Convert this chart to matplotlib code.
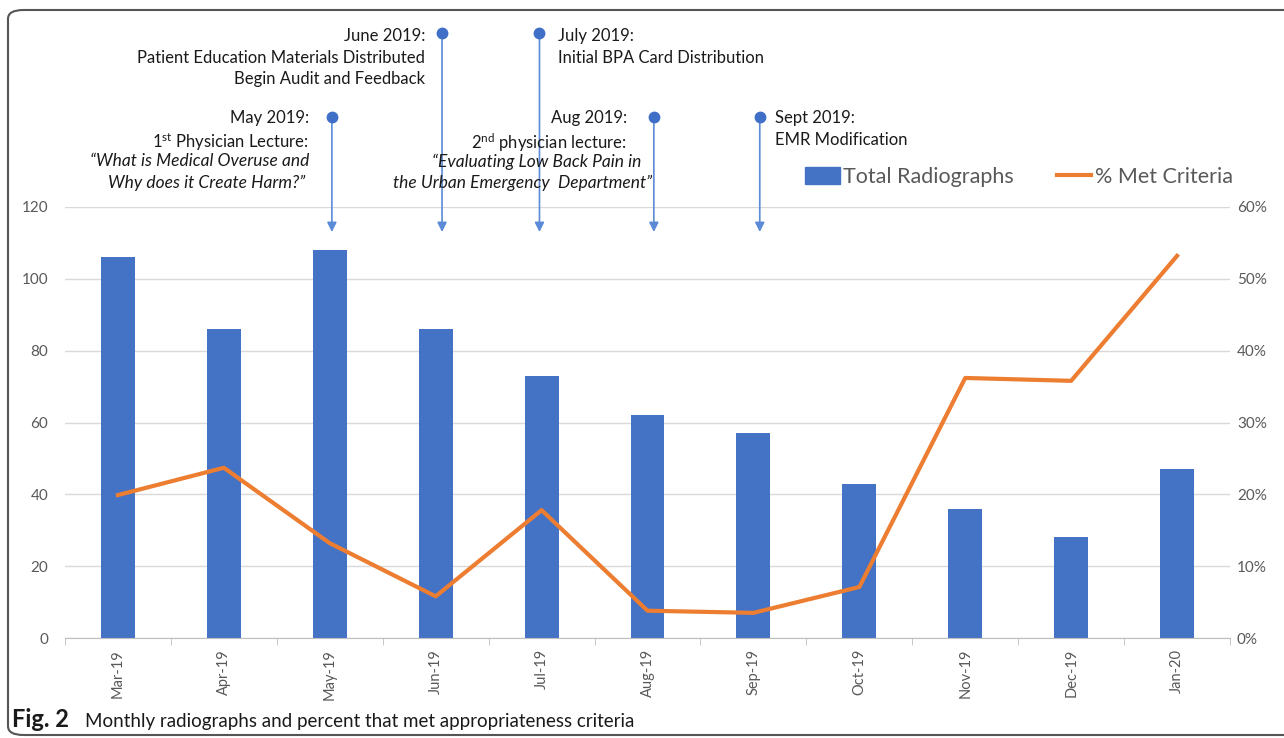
import matplotlib.pyplot as plt
import numpy as np
from matplotlib.patches import FancyBboxPatch
from matplotlib.lines import Line2D
from matplotlib.patches import Patch

plt.rcParams['font.family'] = ['Lato', 'DejaVu Sans']

# data
months = ['Mar-19', 'Apr-19', 'May-19', 'Jun-19', 'Jul-19', 'Aug-19',
          'Sep-19', 'Oct-19', 'Nov-19', 'Dec-19', 'Jan-20']
total_radiographs = [106, 86, 108, 86, 73, 62, 57, 43, 36, 28, 47]
pct_met = [19.9, 23.7, 13.2, 5.8, 17.8, 3.8, 3.5, 7.1, 36.2, 35.8, 53.2]

# interventions: month, label lines (text, italic)
event_months = ['May-19', 'Jun-19', 'Jul-19', 'Aug-19', 'Sep-19']
event_labels = [
    [("May 2019:", False), (r"$\mathregular{1^{st}}$ Physician Lecture:", False),
     ("\u201cWhat is Medical Overuse and", True), ("Why does it Create Harm?\u201d", True)],
    [("June 2019:", False), ("Patient Education Materials Distributed", False),
     ("Begin Audit and Feedback", False)],
    [("July 2019:", False), ("Initial BPA Card Distribution", False)],
    [("Aug 2019:", False), (r"$\mathregular{2^{nd}}$ physician lecture:", False),
     ("\u201cEvaluating Low Back Pain in", True), ("the Urban Emergency  Department\u201d", True)],
    [("Sept 2019:", False), ("EMR Modification", False)],
]

BLUE = '#4472C4'
ORANGE = '#ED7D31'
GREY = '#595959'

W, H = 1284, 738
fig = plt.figure(figsize=(W / 100, H / 100), dpi=100)


def fx(x):
    return x / W


def fy(y):
    return 1 - y / H


ax = fig.add_axes([fx(65), fy(638), fx(1230) - fx(65), fy(207) - fy(638)])
x = np.arange(len(months))
ax.bar(x, total_radiographs, width=0.32, color=BLUE, zorder=2)
ax.set_xlim(-0.5, len(months) - 0.5)
ax.set_ylim(0, 120)
ax.set_yticks(range(0, 121, 20))
ax.grid(axis='y', color='#d9d9d9', lw=1, zorder=0)
ax.set_axisbelow(True)
for s in ['left', 'right', 'top']:
    ax.spines[s].set_visible(False)
ax.spines['bottom'].set_color('#bfbfbf')
ax.set_xticks(x)
ax.set_xticklabels(months, rotation=90, fontsize=10.5, color=GREY)
ax.set_xticks(np.arange(-0.5, len(months)), minor=True)
ax.tick_params(axis='x', which='major', length=0, pad=8)
ax.tick_params(axis='x', which='minor', length=5, color='#bfbfbf')
ax.tick_params(axis='y', length=0, labelsize=11, labelcolor=GREY, pad=12)

ax2 = ax.twinx()
ax2.plot(x, pct_met, color=ORANGE, lw=3, zorder=3, solid_joinstyle='round')
ax2.set_ylim(0, 60)
ax2.set_yticks(range(0, 61, 10))
ax2.set_yticklabels([f'{v}%' for v in range(0, 61, 10)])
ax2.tick_params(axis='y', length=0, labelsize=11, labelcolor=GREY, pad=5)
for s in ax2.spines.values():
    s.set_visible(False)

# legend
handles = [Patch(color=BLUE), Line2D([], [], color=ORANGE, lw=3)]
fig.legend(handles, ['Total Radiographs', '% Met Criteria'], loc='center left',
           bbox_to_anchor=(fx(786), fy(177)), ncol=2, frameon=False, fontsize=15.5,
           labelcolor=GREY, handlelength=1.6, handleheight=0.8, handletextpad=0.15,
           columnspacing=2.0)

# intervention markers
dot_px = [117, 33, 33, 117, 117]
nudge = [0.02, 0.06, -0.02, 0.06, 0.06]
to_data = lambda ypx: (638 - ypx) / (638 - 207) * 120
for m, dy, dn in zip(event_months, dot_px, nudge):
    xi = months.index(m) + dn
    ax.annotate('', xy=(xi, to_data(232)), xytext=(xi, to_data(dy)),
                arrowprops=dict(arrowstyle='-|>', color='#5B8BD6', lw=1.2,
                                mutation_scale=14, shrinkA=0, shrinkB=0),
                annotation_clip=False)
    ax.plot([xi], [to_data(dy)], 'o', ms=7.5, color='#3F6FC6', clip_on=False, zorder=5)

# text blocks: (x px, top y px, ha, per-line x adjust)
blocks = [
    (309, 110, 'right', [0, 0, 0, -4]),
    (425, 28, 'right', [0, 0, 0]),
    (558, 28, 'left', [0, 0]),
    (627, 110, 'right', [0, -1, 14, 25]),
    (775, 110, 'left', [0, 0]),
]
for (bx, by, ha, adj), lines in zip(blocks, event_labels):
    for i, (txt, ital) in enumerate(lines):
        fig.text(fx(bx + adj[i]), fy(by + i * 21.7), txt, ha=ha, va='top',
                 fontsize=12.5 if ital else 12, color='#1a1a1a',
                 style='italic' if ital else 'normal')

# caption
fig.text(fx(12), fy(727), 'Fig. 2', fontsize=17, fontweight='bold', color='#1a1a1a', va='baseline')
fig.text(fx(85), fy(727), 'Monthly radiographs and percent that met appropriateness criteria',
         fontsize=13.5, color='#1a1a1a', va='baseline')

# frame
frame = FancyBboxPatch((fx(8), fy(735)), fx(1300) - fx(8), fy(10) - fy(735),
                       boxstyle='round,pad=0,rounding_size=0.012', transform=fig.transFigure,
                       fill=False, ec='#555555', lw=1.5, clip_on=False)
fig.patches.append(frame)

fig.savefig('out.png', dpi=100)
